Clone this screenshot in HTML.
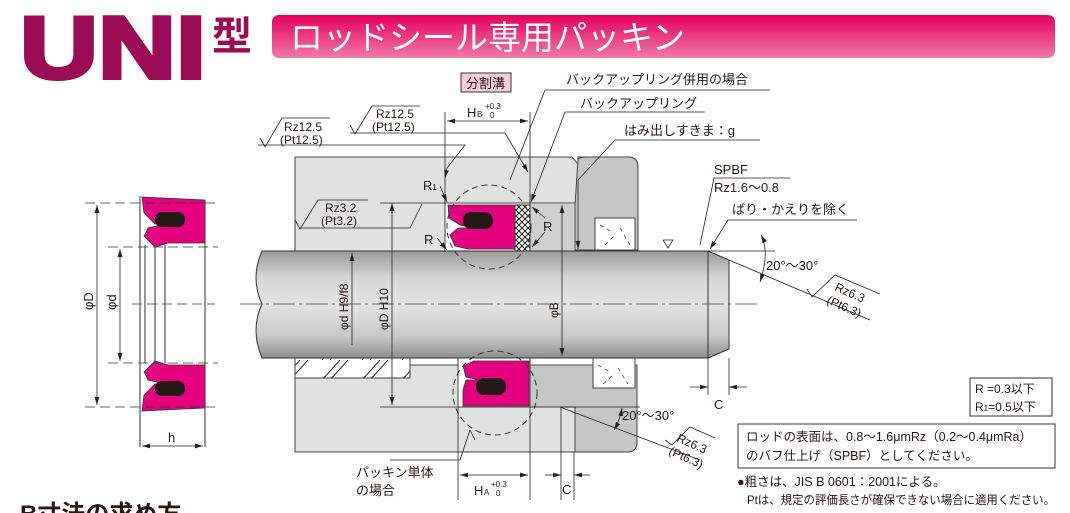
<!DOCTYPE html>
<html><head><meta charset="utf-8"><style>
html,body{margin:0;padding:0;background:#fff;width:1070px;height:513px;overflow:hidden}
svg{display:block}
text{font-family:"Liberation Sans","Noto Sans CJK JP",sans-serif;fill:#231815}
</style></head><body>
<svg width="1070" height="513" viewBox="0 0 1070 513" xmlns="http://www.w3.org/2000/svg">
<defs>
<linearGradient id="ban" x1="0" y1="0" x2="0" y2="1"><stop offset="0" stop-color="#e6005c"/><stop offset="1" stop-color="#f07aa8"/></linearGradient>
<linearGradient id="rod" x1="0" y1="0" x2="0" y2="1"><stop offset="0" stop-color="#9a9a9a"/><stop offset="0.25" stop-color="#d6d6d6"/><stop offset="0.5" stop-color="#e4e4e4"/><stop offset="0.8" stop-color="#c8c8c8"/><stop offset="1" stop-color="#8e8e8e"/></linearGradient>
<pattern id="xh" width="6" height="6" patternUnits="userSpaceOnUse"><rect width="6" height="6" fill="#fff"/><path d="M0 0L6 6M6 0L0 6" stroke="#222" stroke-width="1"/></pattern>
<pattern id="hat" width="40" height="20" patternUnits="userSpaceOnUse"><rect width="40" height="20" fill="#fff"/><path d="M2 20L20 0M10 20L28 0" stroke="#333" stroke-width="1"/></pattern>
<marker id="a" viewBox="0 0 10 6" refX="10" refY="3" markerWidth="10" markerHeight="6" orient="auto-start-reverse"><path d="M0 0L10 3L0 6z" fill="#222"/></marker>
</defs>

<!-- header -->
<text x="20" y="78" font-size="88" font-weight="bold" style="fill:#9b0a55;stroke:#9b0a55;stroke-width:4" textLength="186" lengthAdjust="spacingAndGlyphs">UNI</text>
<text x="212" y="50" font-size="40" font-weight="bold" style="fill:#9b0a55">型</text>
<rect x="272" y="15" width="783" height="43" rx="7" fill="url(#ban)"/>
<text x="290" y="49" font-size="33" style="fill:#fff">ロッドシール専用パッキン</text>

<!-- left standalone seal -->
<g stroke="#333" stroke-width="1" fill="none">
<line x1="140" y1="196" x2="140" y2="447"/><line x1="205" y1="200" x2="205" y2="447"/>
<line x1="145" y1="245" x2="145" y2="363"/><line x1="155" y1="245" x2="155" y2="363"/><line x1="165" y1="245" x2="165" y2="363"/>
</g>
<path d="M142 197L205 200V243H168L155 247L144 236L148 228L164 224H155L144 213Z" fill="#e4007f" stroke="#333" stroke-width="0.8"/>
<rect x="155" y="212" width="30" height="15" rx="7" fill="#231815"/>
<path d="M142 411L205 408V365H168L155 361L144 372L148 380L164 384H155L144 395Z" fill="#e4007f" stroke="#333" stroke-width="0.8"/>
<rect x="155" y="381" width="30" height="15" rx="7" fill="#231815"/>
<g stroke="#333" stroke-width="0.8" stroke-dasharray="10 5" fill="none">
<line x1="85" y1="203" x2="218" y2="203"/><line x1="85" y1="407" x2="218" y2="407"/>
<line x1="108" y1="247" x2="218" y2="247"/><line x1="108" y1="363" x2="218" y2="363"/>
<line x1="132" y1="304" x2="215" y2="304"/>
</g>
<g stroke="#222" stroke-width="0.8"><line x1="97" y1="205" x2="97" y2="405" marker-start="url(#a)" marker-end="url(#a)"/>
<line x1="120" y1="249" x2="120" y2="361" marker-start="url(#a)" marker-end="url(#a)"/>
<line x1="142" y1="446" x2="203" y2="446" marker-start="url(#a)" marker-end="url(#a)"/></g>
<text transform="translate(93,310) rotate(-90)" font-size="13">φD</text>
<text transform="translate(116,310) rotate(-90)" font-size="13">φd</text>
<text x="168" y="442" font-size="13">h</text>

<!-- housing upper -->
<path d="M295 157H572L578 164V157H628Q638 157 638 167V250H575V203H530V251H295Z" fill="#e1e1e1" stroke="#444" stroke-width="1"/>
<path d="M578 160Q578 157 588 157H628Q638 157 638 167V250H575V205Z" fill="#c6c6c6" stroke="#444" stroke-width="1"/>
<path d="M530 203H575V251H530Z" fill="#cfcfcf" stroke="#444" stroke-width="0.8"/>
<rect x="445" y="203" width="85" height="48" fill="#fff" stroke="#444"/>
<rect x="595" y="218" width="40" height="32" fill="#fff" stroke="#444"/>
<!-- housing lower -->
<path d="M295 378H410V365H458V407H530V365H627Q637 365 637 375V442Q637 452 627 452H295Z" fill="#e1e1e1" stroke="#444"/>
<path d="M530 365H637V442Q637 452 627 452H575V407H530Z" fill="#c6c6c6" stroke="#444"/>
<rect x="295" y="358" width="115" height="20" fill="url(#hat)" stroke="#444"/>
<rect x="458" y="358" width="72" height="49" fill="#fff" stroke="#444"/>
<rect x="593" y="358" width="42" height="30" fill="#fff" stroke="#444"/>
<g stroke="#444" stroke-width="0.8" stroke-dasharray="4 4"><line x1="600" y1="225" x2="612" y2="232"/><line x1="605" y1="245" x2="615" y2="235"/><line x1="620" y1="228" x2="630" y2="245"/><line x1="598" y1="365" x2="610" y2="372"/><line x1="603" y1="384" x2="613" y2="375"/><line x1="618" y1="368" x2="628" y2="384"/></g>
<!-- rod -->
<path d="M262 251H708L729 260V349L708 358H262Q250 330 262 304Q250 278 262 251Z" fill="url(#rod)" stroke="#333" stroke-width="1"/>
<line x1="708" y1="251" x2="708" y2="358" stroke="#333"/>
<line x1="240" y1="304" x2="760" y2="304" stroke="#333" stroke-width="0.8" stroke-dasharray="22 4 3 4"/>
<!-- seals in groove -->
<path d="M448 205H515V249H468L455 246L450 235L458 228H473L460 225L449 218Z" fill="#e4007f" stroke="#333" stroke-width="0.8"/>
<rect x="463" y="212" width="30" height="17" rx="8" fill="#231815"/>
<rect x="515" y="205" width="15" height="46" fill="url(#xh)" stroke="#333"/>
<path d="M463 406H529V361H474L463 366L466 377L480 380H466L463 390Z" fill="#e4007f" stroke="#333" stroke-width="0.8"/>
<rect x="476" y="378" width="30" height="17" rx="8" fill="#231815"/>
<g fill="none" stroke="#333" stroke-dasharray="6 4"><circle cx="489" cy="227" r="42"/><circle cx="495" cy="393" r="42"/></g>
<!-- dims -->
<g stroke="#222" stroke-width="0.8" fill="none">
<line x1="445" y1="112" x2="445" y2="203"/><line x1="530" y1="112" x2="530" y2="203"/>
<line x1="447" y1="121" x2="528" y2="121" marker-start="url(#a)" marker-end="url(#a)"/>
<line x1="458" y1="407" x2="458" y2="500"/><line x1="530" y1="407" x2="530" y2="500"/>
<line x1="460" y1="475" x2="528" y2="475" marker-start="url(#a)" marker-end="url(#a)"/>
<line x1="561" y1="407" x2="561" y2="500"/><line x1="574" y1="452" x2="574" y2="500"/>
<line x1="545" y1="475" x2="561" y2="475" marker-end="url(#a)"/><line x1="590" y1="475" x2="574" y2="475" marker-end="url(#a)"/>
<line x1="708" y1="358" x2="708" y2="395"/><line x1="729" y1="358" x2="729" y2="395"/>
<line x1="690" y1="387" x2="708" y2="387" marker-end="url(#a)"/><line x1="747" y1="387" x2="729" y2="387" marker-end="url(#a)"/>
<line x1="392" y1="203" x2="392" y2="405" marker-start="url(#a)" marker-end="url(#a)"/>
<line x1="380" y1="407" x2="458" y2="407"/><line x1="380" y1="203" x2="445" y2="203"/>
<line x1="352" y1="253" x2="352" y2="345" marker-start="url(#a)"/>
<line x1="562" y1="205" x2="562" y2="356" marker-start="url(#a)" marker-end="url(#a)"/>
<line x1="578" y1="180" x2="578" y2="249" marker-end="url(#a)"/>
<polyline points="258,145 465,145 447,168 445,178" marker-end="url(#a)"/>
<polyline points="350,133 505,133 528,172" marker-end="url(#a)"/>
<polyline points="300,228 410,228 422,204" />
<polyline points="545,90 770,90"/><line x1="545" y1="90" x2="510" y2="180"/>
<polyline points="705,112 565,112 531,202" marker-end="url(#a)"/>
<polyline points="760,140 615,140 578,180"/>
<polyline points="790,178 714,178 700,245"/>
<polyline points="857,220 728,220 710,249" marker-end="url(#a)"/>
<line x1="440" y1="186" x2="447" y2="202" marker-end="url(#a)"/>
<line x1="437" y1="238" x2="447" y2="250" marker-end="url(#a)"/>
<line x1="545" y1="218" x2="532" y2="207" marker-end="url(#a)"/>
<line x1="545" y1="232" x2="532" y2="247" marker-end="url(#a)"/>
<line x1="729" y1="260" x2="870" y2="320"/><line x1="708" y1="251" x2="775" y2="251"/>
<line x1="560" y1="407" x2="700" y2="460"/><line x1="560" y1="407" x2="640" y2="407"/>
<path d="M761 235Q770 252 760 282" marker-start="url(#a)" marker-end="url(#a)"/>
<path d="M622 408Q620 420 614 430" marker-start="url(#a)" marker-end="url(#a)"/>
<polyline points="390,460 460,460 470,430"/><line x1="475" y1="440" x2="470" y2="430"/>
</g>
<g stroke="#222" stroke-width="0.8" fill="none">
<polyline points="260,138 265,147 282,118 330,118"/>
<polyline points="350,125 355,134 372,106 420,106"/>
<polyline points="295,220 300,229 318,200 368,200"/>
<polyline points="663,240 668,248 673,240 663,240"/>
<polyline points="807,289 812,297 835,275 880,294"/>
<polyline points="665,440 672,445 690,427 715,438"/>
</g>
<!-- labels -->
<rect x="461" y="73" width="50" height="19" fill="#f7cddd" stroke="#333"/>
<text x="466" y="88" font-size="13">分割溝</text>
<text x="467" y="117" font-size="13">H</text><text x="477" y="117" font-size="8">B</text>
<text x="485" y="109" font-size="8">+0.3</text><text x="490" y="118" font-size="8">0</text>
<text x="284" y="131" font-size="12">Rz12.5</text><text x="280" y="144" font-size="12">(Pt12.5)</text>
<text x="376" y="118" font-size="12">Rz12.5</text><text x="372" y="131" font-size="12">(Pt12.5)</text>
<text x="325" y="212" font-size="12">Rz3.2</text><text x="321" y="225" font-size="12">(Pt3.2)</text>
<text x="566" y="84" font-size="13">バックアップリング併用の場合</text>
<text x="580" y="108" font-size="13">バックアップリング</text>
<text x="624" y="135" font-size="13">はみ出しすきま：g</text>
<text x="423" y="190" font-size="13">R<tspan font-size="8">1</tspan></text>
<text x="424" y="244" font-size="13">R</text><text x="543" y="231" font-size="13">R</text>
<text x="714" y="174" font-size="13">SPBF</text><text x="714" y="192" font-size="13">Rz1.6〜0.8</text>
<text x="732" y="214" font-size="13">ばり・かえりを除く</text>
<text x="766" y="270" font-size="13">20°〜30°</text>
<text x="622" y="420" font-size="13">20°〜30°</text>
<text transform="translate(834,290) rotate(24)" font-size="12">Rz6.3</text>
<text transform="translate(826,303) rotate(24)" font-size="12">(Pt6.3)</text>
<text transform="translate(676,441) rotate(24)" font-size="12">Rz6.3</text>
<text transform="translate(668,454) rotate(24)" font-size="12">(Pt6.3)</text>
<text transform="translate(348,330) rotate(-90)" font-size="12">φd H9/f8</text>
<text transform="translate(388,330) rotate(-90)" font-size="12">φD H10</text>
<text transform="translate(558,318) rotate(-90)" font-size="12">φB</text>
<text x="714" y="409" font-size="13">C</text><text x="562" y="494" font-size="13">C</text>
<text x="474" y="495" font-size="13">H</text><text x="484" y="495" font-size="8">A</text>
<text x="491" y="487" font-size="8">+0.3</text><text x="496" y="496" font-size="8">0</text>
<text x="356" y="477" font-size="13">パッキン単体</text><text x="356" y="495" font-size="13">の場合</text>
<!-- notes -->
<rect x="970" y="378" width="82" height="38" fill="#fff" stroke="#333"/>
<text x="975" y="393" font-size="12">R =0.3以下</text><text x="975" y="411" font-size="12">R<tspan font-size="8">1</tspan>=0.5以下</text>
<rect x="738" y="424" width="317" height="44" fill="#fff" stroke="#333"/>
<text x="746" y="441" font-size="12.5">ロッドの表面は、0.8〜1.6μmRz（0.2〜0.4μmRa）</text>
<text x="746" y="460" font-size="12.5">のバフ仕上げ（SPBF）としてください。</text>
<text x="737" y="486" font-size="12.5">●粗さは、JIS B 0601：2001による。</text>
<text x="747" y="504" font-size="12" textLength="308" lengthAdjust="spacingAndGlyphs">Ptは、規定の評価長さが確保できない場合に適用ください。</text>
<text x="20" y="522" font-size="24" font-weight="bold">B寸法の求め方</text>
</svg>
</body></html>
